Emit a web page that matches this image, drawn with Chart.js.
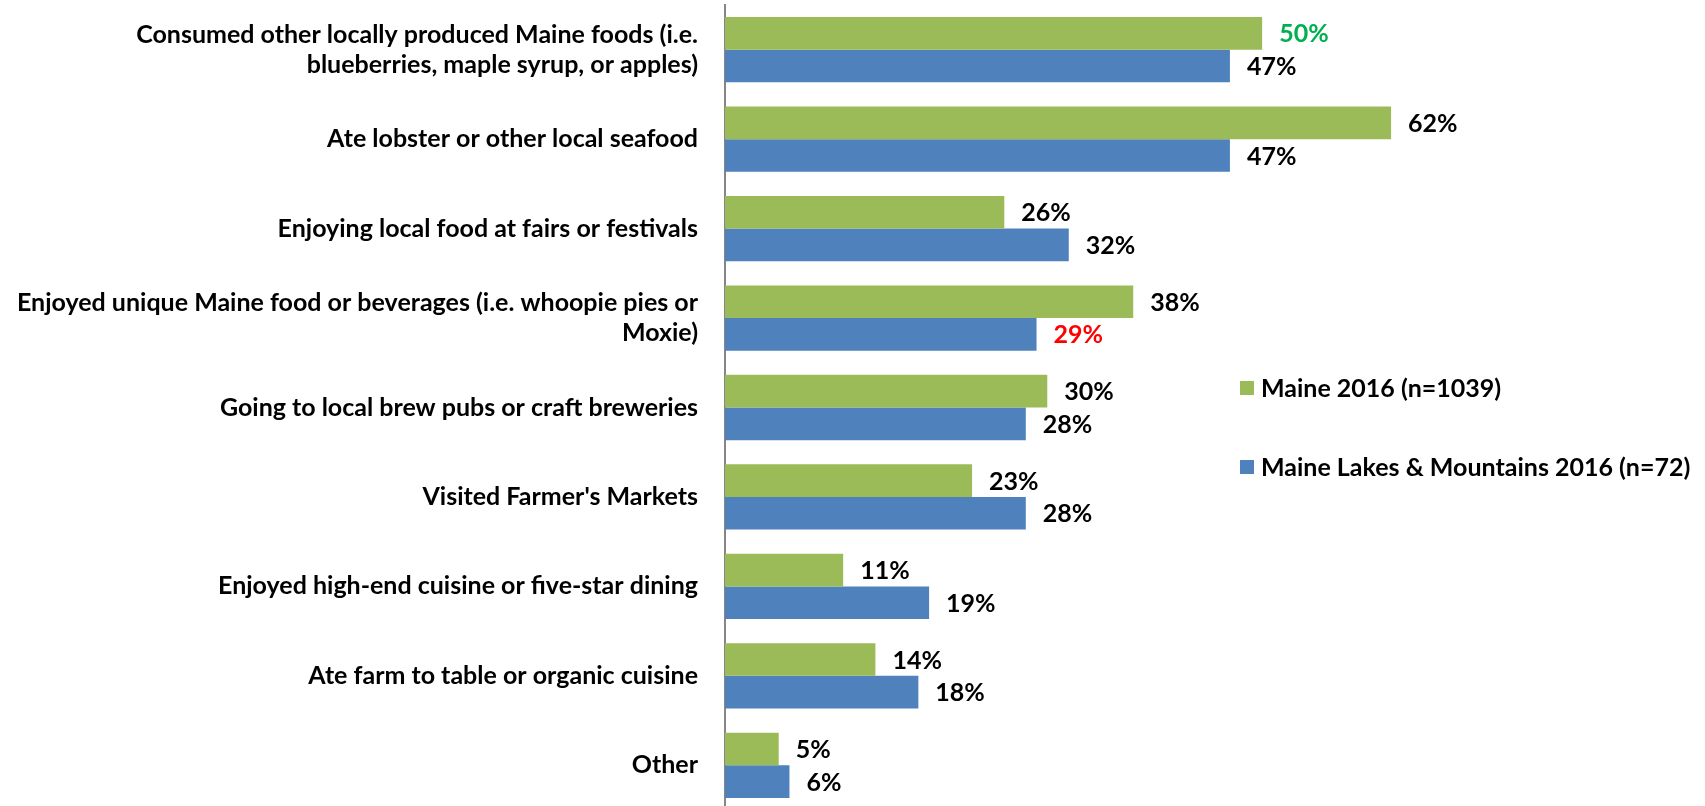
<!DOCTYPE html>
<html>
<head>
<meta charset="utf-8">
<title>Local food activities</title>
<script src="https://cdn.jsdelivr.net/npm/chart.js@4/dist/chart.umd.min.js"></script>
<style>
    html, body { margin: 0; padding: 0; background: #fff; overflow: hidden; }
    #wrap { position: relative; width: 1705px; height: 810px; }
</style>
</head>
<body>
<div id="wrap"><canvas id="chartFood"></canvas></div>
<script>
const CATEGORIES = [
    ['Consumed other locally produced Maine foods (i.e.', 'blueberries, maple syrup, or apples)'],
    'Ate lobster or other local seafood',
    'Enjoying local food at fairs or festivals',
    ['Enjoyed unique Maine food or beverages (i.e. whoopie pies or', 'Moxie)'],
    'Going to local brew pubs or craft breweries',
    "Visited Farmer's Markets",
    'Enjoyed high-end cuisine or five-star dining',
    'Ate farm to table or organic cuisine',
    'Other'
];
const MAINE_2016 = [50, 62, 26, 38, 30, 23, 11, 14, 5];
const LAKES_MOUNTAINS_2016 = [47, 47, 32, 29, 28, 28, 19, 18, 6];
const SERIES_NAMES = ['Maine 2016 (n=1039)', 'Maine Lakes & Mountains 2016 (n=72)'];

const FONT = "Lato, 'Open Sans', sans-serif";
const FONT_SIZE = 25;
const GREEN = '#9bbb59';
const BLUE = '#4f81bd';

// a few labels are highlighted in the source deck
const LABEL_COLORS = [
    ['#00b050', '#000', '#000', '#000', '#000', '#000', '#000', '#000', '#000'],
    ['#000', '#000', '#000', '#ff0000', '#000', '#000', '#000', '#000', '#000']
];

const valueLabels = {
    id: 'valueLabels',
    afterDatasetsDraw(chart) {
        const ctx = chart.ctx;
        ctx.save();
        ctx.font = 'bold ' + FONT_SIZE + 'px ' + FONT;
        ctx.textAlign = 'left';
        ctx.textBaseline = 'middle';
        chart.data.datasets.forEach((ds, di) => {
            chart.getDatasetMeta(di).data.forEach((bar, i) => {
                ctx.fillStyle = LABEL_COLORS[di][i];
                ctx.fillText(ds.data[i] + '%', bar.x + 17, bar.y + 1);
            });
        });
        ctx.restore();
    }
};

const sideLegend = {
    id: 'sideLegend',
    afterDraw(chart) {
        const ctx = chart.ctx;
        const rows = [388, 467];
        ctx.save();
        ctx.font = 'bold ' + FONT_SIZE + 'px ' + FONT;
        ctx.textAlign = 'left';
        ctx.textBaseline = 'middle';
        chart.data.datasets.forEach((ds, di) => {
            const y = rows[di];
            ctx.fillStyle = ds.backgroundColor;
            ctx.fillRect(1240, y - 7, 14, 14);
            ctx.fillStyle = '#000';
            ctx.fillText(ds.label, 1261, y + 1);
        });
        ctx.restore();
    }
};

new Chart(document.getElementById('chartFood'), {
    type: 'bar',
    data: {
        labels: CATEGORIES,
        datasets: [
            { label: SERIES_NAMES[0], data: MAINE_2016, backgroundColor: GREEN, borderWidth: 0 },
            { label: SERIES_NAMES[1], data: LAKES_MOUNTAINS_2016, backgroundColor: BLUE, borderWidth: 0 }
        ]
    },
    options: {
        indexAxis: 'y',
        responsive: true, maintainAspectRatio: false,
        animation: false,
        events: [],
        layout: { padding: { top: 5, right: 228, bottom: 0, left: 0 } },
        datasets: { bar: { categoryPercentage: 0.73, barPercentage: 1 } },
        plugins: { legend: { display: false }, tooltip: { enabled: false } },
        scales: {
            x: { display: false, min: 0, max: 70 },
            y: {
                grid: { display: false, drawTicks: false },
                border: { display: true, color: '#868686', width: 2 },
                ticks: {
                    autoSkip: false,
                    padding: 27,
                    color: '#000',
                    font: { family: FONT, size: FONT_SIZE, weight: 'bold', lineHeight: 1.2 }
                },
                afterFit(scale) {
                    scale.width = 725;
                    scale.paddingTop = 0;
                    scale.paddingBottom = 0;
                }
            }
        }
    },
    plugins: [valueLabels, sideLegend]
});
</script>
</body>
</html>
